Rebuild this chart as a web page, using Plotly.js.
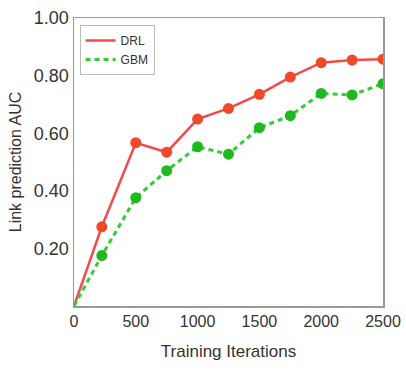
<!DOCTYPE html>
<html>
<head>
<meta charset="utf-8">
<script src="https://cdn.plot.ly/plotly-3.0.1.min.js"></script>
<style>html,body{margin:0;padding:0;background:#fff;}#chart{width:406px;height:374px;}</style>
</head>
<body>
<div id="chart"></div>
<script>
const iterations = [0, 225, 500, 750, 1000, 1250, 1500, 1750, 2000, 2250, 2500];
const drlAUC = [0.0, 0.275, 0.567, 0.534, 0.649, 0.686, 0.735, 0.795, 0.845, 0.854, 0.857];
const gbmAUC = [0.0, 0.175, 0.376, 0.470, 0.553, 0.527, 0.619, 0.661, 0.738, 0.733, 0.772];
const xTicks = [0, 500, 1000, 1500, 2000, 2500];
const yTicks = [0.2, 0.4, 0.6, 0.8, 1.0];
const yTickText = ["0.20", "0.40", "0.60", "0.80", "1.00"];

const FONT = "Arial, 'Liberation Sans', sans-serif";
const DRL_LINE = "#f44a4a", DRL_MARK = "#ee4a2a";
const GBM_LINE = "#33cc33", GBM_MARK = "#1fb81f";
const traces = [
  {
    x: iterations, y: drlAUC, name: "DRL", mode: "lines",
    line: {color: DRL_LINE, width: 2.5}
  },
  {
    x: iterations, y: gbmAUC, name: "GBM", mode: "lines",
    line: {color: GBM_LINE, width: 3, dash: "5px,4px"}
  },
  {
    x: iterations.slice(1), y: drlAUC.slice(1), name: "DRL", mode: "markers",
    showlegend: false, marker: {color: DRL_MARK, size: 11}
  },
  {
    x: iterations.slice(1), y: gbmAUC.slice(1), name: "GBM", mode: "markers",
    showlegend: false, marker: {color: GBM_MARK, size: 11}
  }
];
const layout = {
  width: 406, height: 374,
  margin: {l: 73.5, r: 23, t: 18, b: 68},
  paper_bgcolor: "#fff", plot_bgcolor: "#fff",
  showlegend: true,
  legend: {
    x: 0.018, y: 0.976, xanchor: "left", yanchor: "top",
    bgcolor: "#fff", bordercolor: "#bbb", borderwidth: 1,
    font: {family: FONT, size: 12, color: "#333"},
    tracegroupgap: 0, itemwidth: 30
  },
  xaxis: {
    range: [0, 2500], tickvals: xTicks, ticktext: xTicks.map(String),
    showgrid: false, zeroline: false, showline: true, mirror: true,
    linecolor: "#999", linewidth: 1.5, ticks: "",
    tickfont: {family: FONT, size: 16, color: "#333"},
    title: {text: "Training Iterations", font: {family: FONT, size: 17, color: "#333"}, standoff: 16}
  },
  yaxis: {
    range: [0, 1], tickvals: yTicks, ticktext: yTickText,
    showgrid: false, zeroline: false, showline: true, mirror: true,
    linecolor: "#999", linewidth: 1.5, ticks: "",
    tickfont: {family: FONT, size: 18, color: "#333"},
    title: {text: "Link prediction AUC", font: {family: FONT, size: 16, color: "#333"}, standoff: 8}
  }
};
Plotly.newPlot("chart", traces, layout, {displayModeBar: false, staticPlot: true});
</script>
</body>
</html>
